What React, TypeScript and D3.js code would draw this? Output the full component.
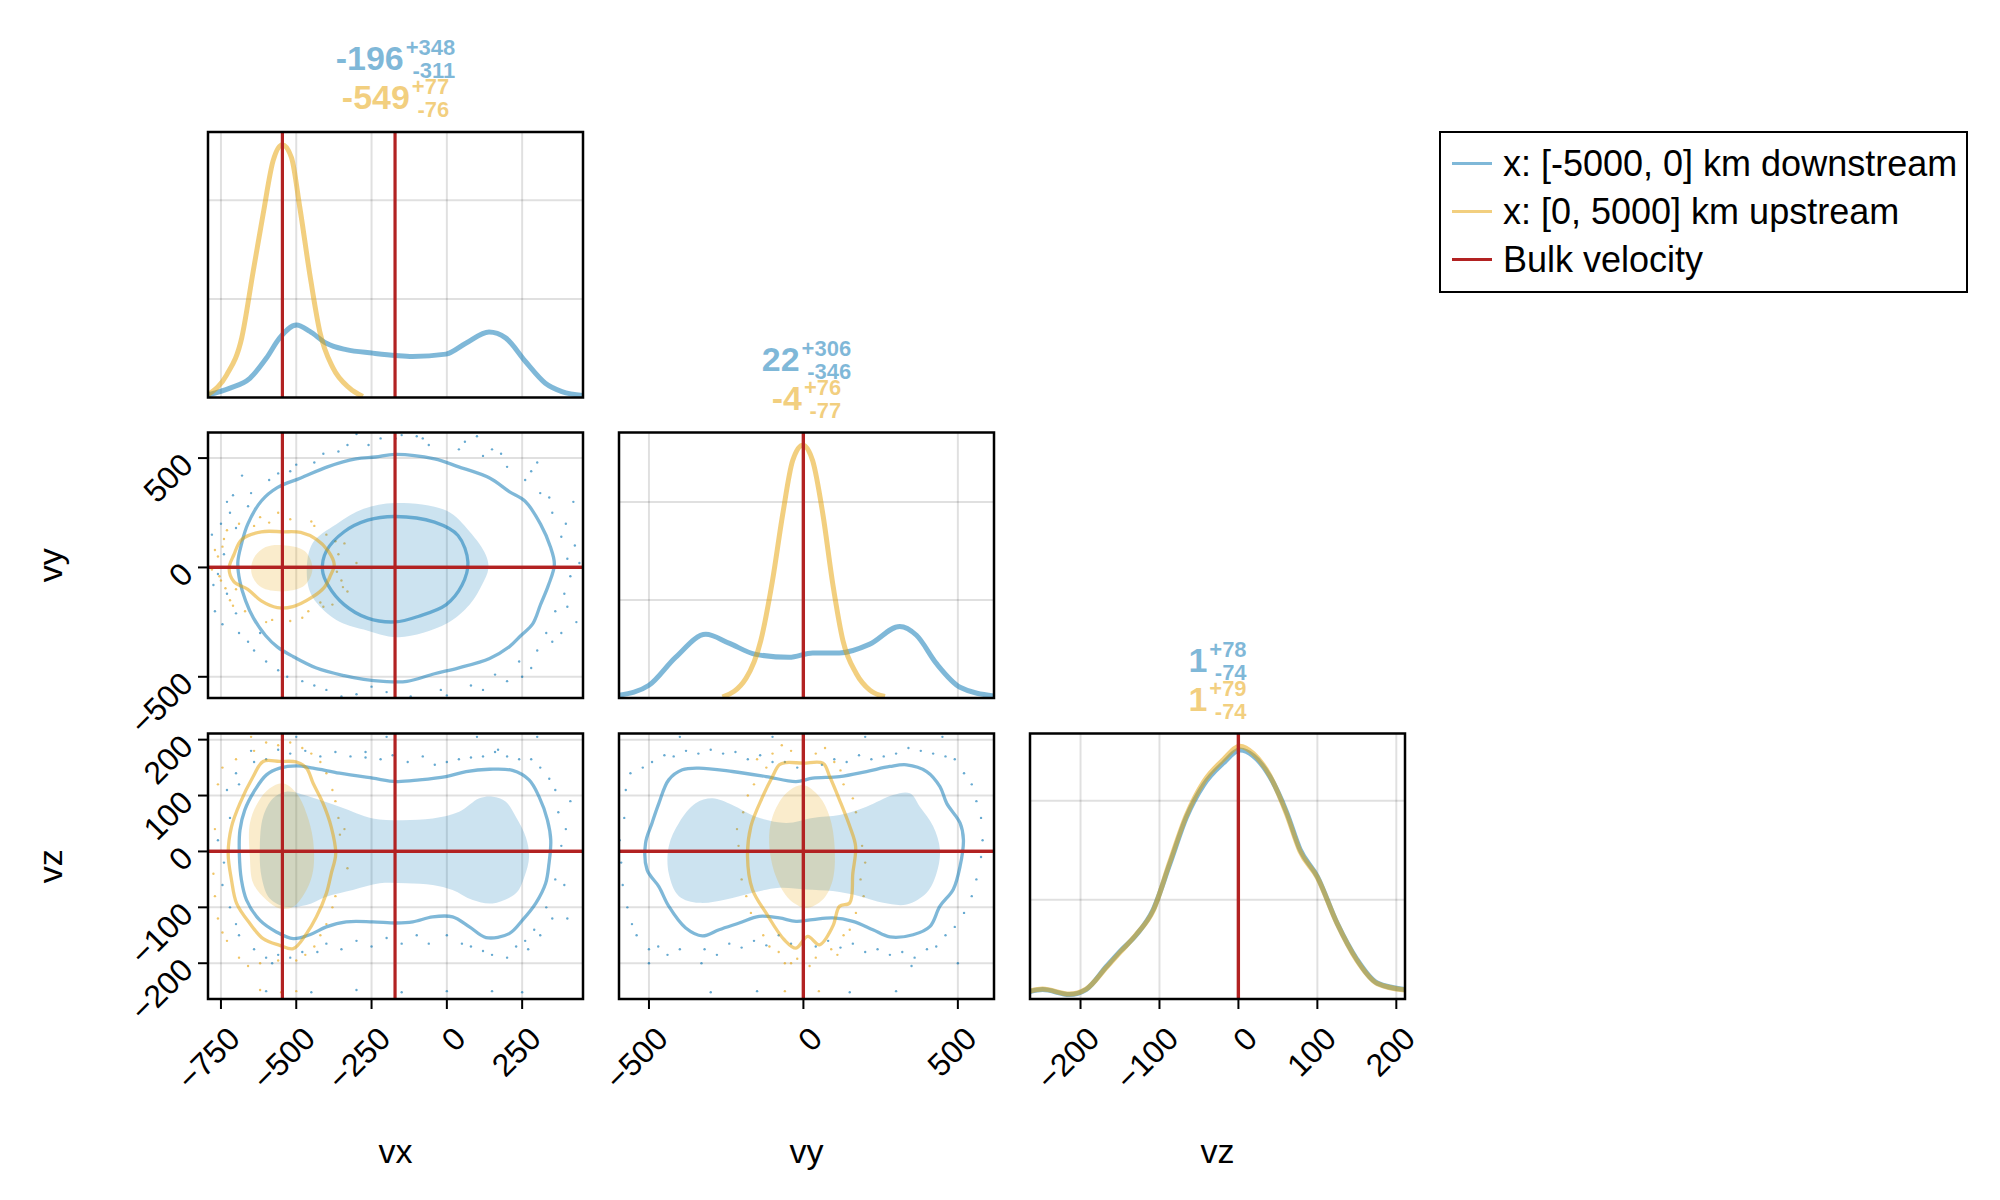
import React, { useMemo } from "react";
import * as d3 from "d3";

type P = [number, number];

const FONT = '"Liberation Sans", Arial, Helvetica, sans-serif';

// ---------- labels ----------
const varLabels = ["vx", "vy", "vz"];
const seriesNames = ["x: [-5000, 0] km downstream", "x: [0, 5000] km upstream"];
const bulkName = "Bulk velocity";

// ---------- axes ----------
const vxTicks = [-750, -500, -250, 0, 250];
const vyTicks = [-500, 0, 500];
const vzTicks = [-200, -100, 0, 100, 200];
const densityTicks = [0.002, 0.004];

const vxLimits: P = [-793, 452];
const vyLimits: P = [-597, 617];
const vzLimits: P = [-264, 211];

// ---------- bulk velocity ----------
const bulkDownstream = [-172, 0, 0];
const bulkUpstream = [-546, 0, 0];

// ---------- medians / quantile errors ----------
const medianDownstream = ["-196", "22", "1"];
const plusDownstream = ["+348", "+306", "+78"];
const minusDownstream = ["-311", "-346", "-74"];
const medianUpstream = ["-549", "-4", "1"];
const plusUpstream = ["+77", "+76", "+79"];
const minusUpstream = ["-76", "-77", "-74"];

// ---------- 1D densities [value, density] ----------
const vxDensityDown: P[] = [
  [-792, 0.000055], [-720, 0.00019], [-654, 0.00039], [-599, 0.0008], [-555, 0.00121],
  [-499, 0.00147], [-455, 0.00134], [-400, 0.0011], [-334, 0.00097], [-246, 0.0009],
  [-169, 0.00085], [-114, 0.00083], [-3, 0.00088], [63, 0.0011], [140, 0.00133],
  [195, 0.00121], [261, 0.00073], [327, 0.00029], [382, 0.00012], [452, 0.00004],
];
const vxDensityUp: P[] = [
  [-792, 0.00006], [-731, 0.00046], [-681, 0.00121], [-643, 0.00256], [-610, 0.00372],
  [-577, 0.0048], [-546, 0.00513], [-516, 0.00487], [-488, 0.00385], [-455, 0.0025],
  [-422, 0.00134], [-378, 0.0006], [-323, 0.00019], [-279, 0.00002],
];
const vyDensityDown: P[] = [
  [-597, 0.000055], [-500, 0.00026], [-414, 0.00083], [-316, 0.0013], [-241, 0.00112],
  [-154, 0.00089], [-46, 0.00083], [30, 0.00092], [117, 0.00092], [215, 0.0011],
  [312, 0.00146], [366, 0.00128], [431, 0.0007], [507, 0.00022], [617, 0.00004],
];
const vyDensityUp: P[] = [
  [-262, 0.00002], [-186, 0.0004], [-138, 0.00117], [-100, 0.0024], [-67, 0.00375],
  [-35, 0.00484], [-2, 0.00516], [30, 0.00484], [63, 0.00375], [95, 0.00233],
  [128, 0.00117], [171, 0.0005], [215, 0.00016], [264, 0.00003],
];
const vzDensityDown: P[] = [
  [-264, 0.00015], [-248, 0.00019], [-214, 0.00009], [-193, 0.00019], [-167, 0.00066],
  [-150, 0.00096], [-129, 0.0013], [-108, 0.0018], [-87, 0.00272], [-66, 0.00366],
  [-44, 0.00432], [-19, 0.00476], [2, 0.00502], [19, 0.0049], [40, 0.00448],
  [61, 0.00377], [78, 0.00302], [100, 0.00247], [125, 0.00153], [150, 0.0008],
  [176, 0.00032], [211, 0.00019],
];
const vzDensityUp: P[] = [
  [-264, 0.00016], [-248, 0.0002], [-214, 0.0001], [-193, 0.0002], [-167, 0.00064],
  [-150, 0.00094], [-129, 0.00131], [-108, 0.00178], [-87, 0.00276], [-66, 0.0037],
  [-44, 0.00438], [-19, 0.00483], [2, 0.0051], [19, 0.00495], [40, 0.0045],
  [61, 0.00373], [78, 0.00298], [100, 0.00245], [125, 0.00152], [150, 0.00078],
  [176, 0.00031], [211, 0.00018],
];

// ---------- 2D contours (data units) ----------
// vx–vy
const vxvyOuterDown: P[] = [
  [-172, 517], [-41, 496], [37, 461], [142, 409], [207, 347], [259, 304], [311, 198], [344, 93],
  [357, 14], [337, -82], [311, -170], [285, -258], [246, -311], [207, -363], [142, -416],
  [37, -460], [-41, -486], [-132, -521], [-211, -521], [-276, -512], [-341, -495], [-433, -460],
  [-511, -407], [-563, -363], [-602, -311], [-642, -232], [-668, -153], [-687, -65], [-694, 23],
  [-681, 111], [-661, 198], [-616, 304], [-563, 365], [-485, 409], [-394, 461], [-302, 496], [-237, 505],
];
const vxvyInnerDown: P[] = [
  [-172, 233], [-41, 207], [37, 146], [70, 23], [50, -82], [-2, -170], [-93, -223], [-172, -249],
  [-263, -232], [-341, -170], [-394, -82], [-413, -12], [-400, 75], [-341, 163], [-263, 216],
];
const vxvyFillDown: P[] = [
  [-172, 295], [-2, 260], [76, 163], [129, 58], [138, -4], [116, -82], [76, -170], [-2, -258],
  [-159, -319], [-276, -284], [-367, -240], [-446, -135], [-465, -30], [-446, 111], [-367, 198], [-276, 268],
];
const vxvyOuterUp: P[] = [
  [-544, 163], [-485, 160], [-433, 128], [-394, 75], [-374, 14], [-387, -39], [-407, -91],
  [-446, -135], [-511, -179], [-563, -184], [-616, -153], [-661, -100], [-707, -65], [-723, -4],
  [-707, 58], [-681, 128], [-616, 163],
];
const vxvyFillUp: P[] = [
  [-544, 102], [-472, 75], [-446, -4], [-472, -82], [-537, -109], [-616, -91], [-648, -30], [-642, 40], [-602, 93],
];
// vx–vz
const vxvzOuterDown: P[] = [
  [-499, 153], [-444, 149], [-356, 140], [-246, 131], [-168, 125], [-91, 128], [-3, 134], [64, 143],
  [141, 147], [218, 145], [273, 128], [306, 98], [334, 56], [345, 20], [339, -22], [328, -57],
  [295, -93], [251, -123], [207, -147], [130, -154], [75, -135], [19, -117], [-47, -117], [-113, -126],
  [-168, -128], [-246, -126], [-334, -126], [-400, -135], [-455, -149], [-510, -156], [-566, -144],
  [-621, -123], [-665, -87], [-682, -51], [-689, -4], [-687, 38], [-671, 74], [-637, 110], [-599, 137], [-555, 149],
];
const vxvzFillDown: P[] = [
  [-533, 107], [-455, 98], [-356, 80], [-246, 59], [-157, 56], [-47, 59], [41, 71], [108, 95],
  [152, 98], [196, 89], [229, 62], [262, 26], [273, -10], [257, -46], [229, -75], [152, -93],
  [86, -87], [19, -69], [-47, -60], [-135, -57], [-223, -57], [-312, -69], [-400, -81], [-466, -96],
  [-533, -99], [-588, -84], [-615, -46], [-621, 8], [-610, 62], [-577, 95],
];
const vxvzOuterUp: P[] = [
  [-610, 161], [-555, 161], [-499, 160], [-466, 149], [-444, 122], [-411, 86], [-384, 44], [-369, -4],
  [-384, -40], [-400, -75], [-433, -117], [-466, -147], [-510, -174], [-555, -168], [-610, -156],
  [-654, -129], [-698, -93], [-715, -51], [-726, -4], [-715, 44], [-687, 86], [-643, 134],
];
const vxvzFillUp: P[] = [
  [-544, 122], [-499, 104], [-466, 68], [-444, 20], [-444, -34], [-466, -69], [-510, -99], [-555, -102],
  [-599, -87], [-643, -57], [-654, -10], [-654, 50], [-626, 89], [-588, 113],
];
// vy–vz
const vyvzOuterDown: P[] = [
  [-338, 149], [-230, 143], [-121, 134], [-24, 125], [30, 131], [117, 134], [204, 143], [280, 152],
  [334, 155], [399, 143], [442, 116], [464, 86], [507, 51], [518, 21], [507, -27], [485, -68],
  [442, -98], [410, -134], [355, -149], [280, -153], [225, -140], [160, -125], [95, -119], [30, -122],
  [-24, -125], [-78, -119], [-143, -116], [-208, -128], [-273, -140], [-327, -151], [-381, -137],
  [-436, -98], [-468, -63], [-506, -33], [-511, 15], [-490, 51], [-468, 86], [-436, 128], [-392, 146],
];
const vyvzFillDown: P[] = [
  [-295, 95], [-230, 83], [-154, 62], [-56, 51], [30, 60], [117, 65], [204, 80], [290, 101],
  [345, 104], [377, 80], [420, 45], [442, 3], [431, -39], [399, -74], [334, -95], [258, -92],
  [182, -80], [95, -71], [9, -68], [-78, -65], [-165, -74], [-251, -86], [-338, -92], [-403, -80],
  [-436, -39], [-436, 9], [-403, 51], [-349, 86],
];
const vyvzOuterUp: P[] = [
  [-56, 159], [-2, 158], [63, 158], [85, 134], [117, 92], [150, 45], [169, 9], [160, -39], [150, -92],
  [117, -98], [95, -134], [52, -167], [14, -152], [-24, -173], [-62, -158], [-121, -110], [-165, -68],
  [-181, -9], [-170, 45], [-132, 98], [-100, 134], [-78, 155],
];
const vyvzFillUp: P[] = [
  [-2, 119], [52, 98], [85, 62], [101, 9], [95, -51], [63, -86], [9, -101], [-45, -86], [-89, -45],
  [-111, 15], [-100, 62], [-56, 104],
];

// ---------- outlier points ----------
const vxvyPointsDown: P[] = [
  [-720, 250], [-700, 180], [-740, 60], [-760, -30], [-730, -120], [-700, -210], [-690, -300], [-640, -380],
  [-600, -430], [-560, -470], [-480, -520], [-400, -560], [-300, -580], [-200, -570], [-120, -590], [-20, -560],
  [80, -540], [160, -490], [240, -430], [300, -380], [330, -300], [360, -200], [390, -120], [410, -40],
  [400, 40], [380, 140], [350, 250], [310, 340], [260, 400], [200, 460], [120, 510], [40, 540],
  [-60, 560], [-170, 590], [-260, 560], [-360, 530], [-440, 480], [-520, 440], [-590, 400], [-650, 340],
  [-680, 420], [-300, 610], [-150, 605], [100, 600], [300, 480], [420, 300], [430, -250], [-780, 150],
  [-770, -200], [50, -600], [-250, -545], [180, 520], [380, -300], [-620, -300], [-80, 590], [250, -500],
  [-730, 300], [-710, 330], [-660, 280], [-750, 200], [-775, -80], [-745, -260], [-660, -340], [-530, -500],
  [-440, -540], [-350, -590], [-160, -600], [0, -585], [120, -560], [200, -520], [280, -460], [350, -340],
  [400, -180], [425, 100], [440, 20], [395, 200], [340, 320], [280, 440], [150, 540], [60, 575],
  [-100, 600], [-220, 590], [-330, 560], [-410, 520], [-500, 470], [-560, 430],
];
const vxvyPointsUp: P[] = [
  [-760, 50], [-750, -60], [-740, 130], [-720, -150], [-690, 200], [-670, -200], [-620, 230], [-580, -240],
  [-520, 220], [-480, -230], [-440, 190], [-400, 150], [-380, -170], [-360, 60], [-350, -60], [-340, 110],
  [-330, -110], [-700, -100], [-640, 190], [-560, 250], [-460, -200], [-780, -10], [-300, 20], [-745, 95],
  [-735, -95], [-590, 205], [-420, -160], [-365, -20], [-770, 80], [-755, -40], [-730, 170], [-710, -175],
  [-600, -250], [-520, -245], [-450, 210], [-410, -180], [-370, 120], [-345, -90],
];
const vxvzPointsDown: P[] = [
  [-700, 140], [-720, 60], [-740, -20], [-720, -100], [-690, -150], [-640, -175], [-560, -185], [-480, -180],
  [-400, -165], [-300, -160], [-200, -155], [-100, -150], [0, -150], [80, -170], [150, -185], [230, -170],
  [290, -140], [330, -100], [360, -50], [380, 10], [370, 70], [340, 130], [280, 165], [200, 170],
  [120, 170], [40, 165], [-40, 155], [-130, 160], [-220, 165], [-320, 170], [-420, 170], [-520, 175],
  [-600, 165], [-650, 180], [-500, 205], [-200, 205], [100, 205], [300, 205], [-600, -250], [-450, -252],
  [-300, -248], [-150, -252], [0, -250], [150, -250], [250, -252], [400, -120], [410, 90], [-760, 20],
  [-350, -175], [-60, -165], [260, -160], [-270, 178], [170, 182], [-580, -200],
  [-730, 110], [-745, -60], [-700, -130], [-600, -190], [-520, -190], [-430, -180], [-250, -170], [-150, -165],
  [50, -165], [120, -178], [200, -190], [270, -175], [310, -150], [350, -120], [390, -60], [395, 40],
  [360, 110], [310, 150], [240, 165], [160, 178], [80, 168], [0, 160], [-80, 170], [-180, 172],
  [-270, 168], [-370, 178], [-470, 180], [-560, 182], [-640, 160], [-690, 120],
];
const vxvzPointsUp: P[] = [
  [-760, 120], [-770, 40], [-775, -40], [-760, -120], [-730, -160], [-690, -190], [-620, -200], [-560, -195],
  [-500, -195], [-440, -170], [-400, -130], [-370, -80], [-350, 0], [-360, 60], [-380, 110], [-420, 160],
  [-480, 185], [-560, 190], [-640, 180], [-700, 165], [-650, 205], [-550, -252], [-620, -248], [-500, -250],
  [-340, 40], [-330, -30], [-745, 150], [-780, 0], [-770, -80], [-745, -145], [-660, -205], [-470, -185],
  [-420, -150], [-380, -100], [-355, 30], [-370, 90], [-400, 140], [-450, 175], [-520, 195], [-600, 195],
];
const vyvzPointsDown: P[] = [
  [-560, 140], [-580, 60], [-590, -20], [-570, -100], [-540, -150], [-470, -170], [-400, -175], [-320, -175],
  [-240, -165], [-160, -160], [-80, -150], [0, -155], [80, -160], [160, -165], [240, -175], [320, -180],
  [400, -175], [460, -150], [520, -110], [560, -50], [580, 20], [560, 90], [520, 140], [460, 170],
  [380, 180], [300, 175], [220, 165], [140, 160], [60, 155], [-20, 150], [-100, 160], [-180, 165],
  [-260, 175], [-340, 175], [-420, 170], [-490, 160], [-400, 205], [-100, 205], [200, 205], [450, 205],
  [-300, -252], [-150, -250], [0, -248], [150, -252], [300, -250], [-500, -200], [500, -200], [-330, -200],
  [350, -205], [-575, 110], [-595, 20], [-585, -60], [-555, -130], [-500, -175], [-440, -185], [-280, -185],
  [-200, -172], [-120, -168], [-40, -165], [40, -170], [120, -172], [200, -180], [280, -185], [360, -190],
  [430, -170], [490, -135], [545, -80], [575, -10], [575, 60], [545, 120], [490, 165], [420, 175],
  [340, 185], [260, 170], [180, 172], [100, 165], [-60, 160], [-140, 172], [-220, 178], [-300, 182],
  [-380, 180], [-450, 172], [-520, 150],
];
const vyvzPointsUp: P[] = [
  [-100, 175], [-40, 180], [40, 175], [100, 160], [130, 120], [170, 70], [190, 10], [185, -50],
  [170, -110], [130, -150], [90, -175], [40, -190], [-20, -192], [-80, -180], [-130, -150], [-170, -110],
  [-200, -50], [-210, 10], [-195, 70], [-160, 120], [-120, 150], [0, 205], [50, -250], [-60, -250],
  [20, -205], [-40, -200], [-150, 165], [-70, 190], [70, 185], [120, 145], [160, 95], [200, -20],
  [195, -80], [150, -140], [110, -185], [-60, -200], [-110, -170], [-185, -80], [-215, 40], [-180, 100],
];

// ---------- styling ----------
const BLUE = [0, 114, 178];
const ORANGE = [230, 159, 0];
const RED = "#b22222";
const rgba = (c: number[], a: number) => `rgba(${c[0]},${c[1]},${c[2]},${a})`;
const seriesColors = [BLUE, ORANGE];

const colX = [208, 619, 1030];
const rowY = [132, 432.5, 733.5];
const W = 375;
const H = 265.5;

const limits = [vxLimits, vyLimits, vzLimits];
const tickSets = [vxTicks, vyTicks, vzTicks];
const densities = [
  [vxDensityDown, vxDensityUp],
  [vyDensityDown, vyDensityUp],
  [vzDensityDown, vzDensityUp],
];
const bulks = [bulkDownstream, bulkUpstream];

type Layer = { fills: P[][]; lines: P[][]; points: P[] };
const pairLayers: Record<string, Layer[]> = {
  "1-0": [
    { fills: [vxvyFillDown], lines: [vxvyOuterDown, vxvyInnerDown], points: vxvyPointsDown },
    { fills: [vxvyFillUp], lines: [vxvyOuterUp], points: vxvyPointsUp },
  ],
  "2-0": [
    { fills: [vxvzFillDown], lines: [vxvzOuterDown], points: vxvzPointsDown },
    { fills: [vxvzFillUp], lines: [vxvzOuterUp], points: vxvzPointsUp },
  ],
  "2-1": [
    { fills: [vyvzFillDown], lines: [vyvzOuterDown], points: vyvzPointsDown },
    { fills: [vyvzFillUp], lines: [vyvzOuterUp], points: vyvzPointsUp },
  ],
};

const fmtTick = (v: number) => (v < 0 ? "\u2212" + Math.abs(v) : String(v));

let measureCtx: CanvasRenderingContext2D | null = null;
function measure(text: string, size: number) {
  if (!measureCtx) measureCtx = document.createElement("canvas").getContext("2d");
  if (!measureCtx) return text.length * size * 0.55;
  measureCtx.font = `bold ${size}px ${FONT}`;
  return measureCtx.measureText(text).width;
}

const MAIN_SIZE = 34;
const SCRIPT_SIZE = 22;

function MedianLabel({ cx, baseline, main, sup, sub, color }: any) {
  const mw = measure(main, MAIN_SIZE);
  const sw = Math.max(measure(sup, SCRIPT_SIZE), measure(sub, SCRIPT_SIZE));
  const gap = 2;
  const total = mw + gap + sw;
  const x0 = cx - total / 2;
  return (
    <g fill={color} fontFamily={FONT} fontWeight="bold">
      <text x={x0} y={baseline} fontSize={MAIN_SIZE}>{main}</text>
      <text x={x0 + total} y={baseline - 15} fontSize={SCRIPT_SIZE} textAnchor="end">{sup}</text>
      <text x={x0 + total} y={baseline + 8} fontSize={SCRIPT_SIZE} textAnchor="end">{sub}</text>
    </g>
  );
}

export default function App() {
  const panels = useMemo(() => {
    const out: JSX.Element[] = [];
    for (let i = 0; i < 3; i++) {
      for (let j = 0; j <= i; j++) {
        const x0 = colX[j];
        const y0 = rowY[i];
        const x = d3.scaleLinear().domain(limits[j]).range([x0, x0 + W]);
        const clipId = `clip-${i}-${j}`;
        const dataEls: JSX.Element[] = [];
        const axisEls: JSX.Element[] = [];
        const grid: JSX.Element[] = [];
        tickSets[j].forEach((t) =>
          grid.push(<line key={`gx${t}`} x1={x(t)} x2={x(t)} y1={y0} y2={y0 + H} stroke="rgba(0,0,0,0.12)" strokeWidth={2} />)
        );
        if (i === j) {
          const dmax = d3.max(densities[j].flat(), (d) => d[1]) as number;
          const y = d3.scaleLinear().domain([0, dmax * 1.05]).range([y0 + H, y0]);
          densityTicks.forEach((t) =>
            grid.push(<line key={`gy${t}`} x1={x0} x2={x0 + W} y1={y(t)} y2={y(t)} stroke="rgba(0,0,0,0.12)" strokeWidth={2} />)
          );
          const line = d3.line<P>().x((d) => x(d[0])).y((d) => y(d[1])).curve(d3.curveMonotoneX);
          densities[j].forEach((ser, s) =>
            dataEls.push(
              <path key={`d${s}`} d={line(ser) || ""} fill="none" stroke={rgba(seriesColors[s], 0.5)} strokeWidth={5} strokeLinejoin="round" />
            )
          );
          bulks.forEach((b, s) =>
            dataEls.push(<line key={`b${s}`} x1={x(b[j])} x2={x(b[j])} y1={y0} y2={y0 + H} stroke={RED} strokeWidth={3.2} />)
          );
        } else {
          const y = d3.scaleLinear().domain(limits[i]).range([y0 + H, y0]);
          tickSets[i].forEach((t) =>
            grid.push(<line key={`gy${t}`} x1={x0} x2={x0 + W} y1={y(t)} y2={y(t)} stroke="rgba(0,0,0,0.12)" strokeWidth={2} />)
          );
          const closed = d3.line<P>().x((d) => x(d[0])).y((d) => y(d[1])).curve(d3.curveCatmullRomClosed.alpha(0.5));
          const layers = pairLayers[`${i}-${j}`];
          layers.forEach((L, s) => {
            L.points.forEach((p, k) =>
              dataEls.push(<circle key={`p${s}-${k}`} cx={x(p[0])} cy={y(p[1])} r={1.2} fill={rgba(seriesColors[s], 0.6)} />)
            );
          });
          layers.forEach((L, s) => {
            L.fills.forEach((f, k) =>
              dataEls.push(<path key={`f${s}-${k}`} d={closed(f) || ""} fill={rgba(seriesColors[s], 0.2)} stroke="none" />)
            );
          });
          layers.forEach((L, s) => {
            L.lines.forEach((c, k) =>
              dataEls.push(<path key={`l${s}-${k}`} d={closed(c) || ""} fill="none" stroke={rgba(seriesColors[s], 0.5)} strokeWidth={3.3} />)
            );
          });
          bulks.forEach((b, s) => {
            dataEls.push(<line key={`bv${s}`} x1={x(b[j])} x2={x(b[j])} y1={y0} y2={y0 + H} stroke={RED} strokeWidth={3.2} />);
            dataEls.push(<line key={`bh${s}`} x1={x0} x2={x0 + W} y1={y(b[i])} y2={y(b[i])} stroke={RED} strokeWidth={3.2} />);
          });
          if (j === 0) {
            tickSets[i].forEach((t) => {
              axisEls.push(<line key={`yt${t}`} x1={x0 - 10} x2={x0} y1={y(t)} y2={y(t)} stroke="#000" strokeWidth={2} />);
              axisEls.push(
                <text key={`yl${t}`} transform={`translate(${x0 - 21},${y(t) + 1}) rotate(-45)`} textAnchor="end" dominantBaseline="central" fontSize={32} fontFamily={FONT} fill="#000">
                  {fmtTick(t)}
                </text>
              );
            });
          }
        }
        if (i === 2) {
          tickSets[j].forEach((t) => {
            axisEls.push(<line key={`xt${t}`} x1={x(t)} x2={x(t)} y1={y0 + H} y2={y0 + H + 10} stroke="#000" strokeWidth={2} />);
            axisEls.push(
              <text key={`xl${t}`} transform={`translate(${x(t) + 13},${y0 + H + 34}) rotate(-45)`} textAnchor="end" dominantBaseline="central" fontSize={32} fontFamily={FONT} fill="#000">
                {fmtTick(t)}
              </text>
            );
          });
        }
        out.push(
          <g key={`panel-${i}-${j}`}>
            <clipPath id={clipId}>
              <rect x={x0} y={y0} width={W} height={H} />
            </clipPath>
            <g clipPath={`url(#${clipId})`}>
              {grid}
              {dataEls}
            </g>
            <rect x={x0} y={y0} width={W} height={H} fill="none" stroke="#000" strokeWidth={2.5} />
            {axisEls}
          </g>
        );
      }
    }
    return out;
  }, []);

  const medianRows = [
    { main: medianDownstream, sup: plusDownstream, sub: minusDownstream, color: rgba(BLUE, 0.5), off: 62 },
    { main: medianUpstream, sup: plusUpstream, sub: minusUpstream, color: rgba(ORANGE, 0.5), off: 23 },
  ];

  const legendRows = [
    { label: seriesNames[0], color: rgba(BLUE, 0.5) },
    { label: seriesNames[1], color: rgba(ORANGE, 0.5) },
    { label: bulkName, color: RED },
  ];
  const legendY = [163.5, 211.5, 259.5];

  return (
    <svg
      width={2000}
      height={1200}
      viewBox="0 0 2000 1200"
      style={{ position: "absolute", left: 0, top: 0, display: "block", background: "#fff" }}
    >
      <rect x={0} y={0} width={2000} height={1200} fill="#fff" />
      {panels}
      {[0, 1, 2].map((k) =>
        medianRows.map((r, s) => (
          <MedianLabel
            key={`m${k}-${s}`}
            cx={colX[k] + W / 2}
            baseline={rowY[k] - r.off}
            main={r.main[k]}
            sup={r.sup[k]}
            sub={r.sub[k]}
            color={r.color}
          />
        ))
      )}
      {varLabels.map((v, k) => (
        <text key={`xl${v}`} x={colX[k] + W / 2} y={1163} textAnchor="middle" fontSize={34} fontFamily={FONT} fill="#000">
          {v}
        </text>
      ))}
      {[1, 2].map((k) => (
        <text key={`yl${k}`} transform={`translate(62,${rowY[k] + H / 2}) rotate(-90)`} textAnchor="middle" fontSize={34} fontFamily={FONT} fill="#000">
          {varLabels[k]}
        </text>
      ))}
      <g>
        <rect x={1440} y={132} width={527} height={160} fill="#fff" stroke="#000" strokeWidth={2} />
        {legendRows.map((r, k) => (
          <g key={`lg${k}`}>
            <line x1={1452} x2={1492} y1={legendY[k]} y2={legendY[k]} stroke={r.color} strokeWidth={3} />
            <text x={1503} y={legendY[k]} dominantBaseline="central" fontSize={36} fontFamily={FONT} fill="#000">
              {r.label}
            </text>
          </g>
        ))}
      </g>
    </svg>
  );
}
